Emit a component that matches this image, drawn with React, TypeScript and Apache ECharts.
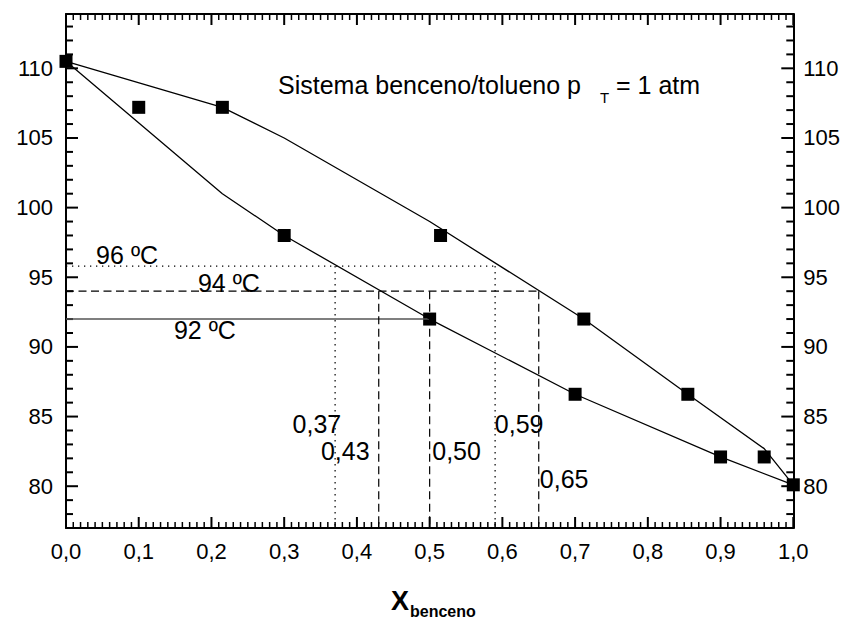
import React, { useEffect, useRef } from 'react';
import * as echarts from 'echarts';

// Liquid (bubble-point) curve
const liquidX = [0, 0.215, 0.3, 0.5, 0.7, 0.9, 1.0];
const liquidT = [110.5, 101, 98, 92, 86.6, 82.1, 80.1];
// Vapour (dew-point) curve
const vaporX = [0, 0.215, 0.3, 0.5, 0.712, 0.855, 0.96, 1.0];
const vaporT = [110.5, 107.2, 105, 99, 92, 86.6, 82.7, 80.1];
// Experimental points
const pointX = [0, 0.1, 0.215, 0.3, 0.515, 0.5, 0.712, 0.7, 0.855, 0.9, 0.96, 1.0];
const pointT = [110.5, 107.2, 107.2, 98, 98, 92, 92, 86.6, 86.6, 82.1, 82.1, 80.1];

// Isotherms
const isoT = [95.8, 94, 92];
const isoEndX = [0.59, 0.65, 0.5];
const isoLabels = ['96 ºC', '94 ºC', '92 ºC'];
const isoLabelX = [0.084, 0.224, 0.191];
const isoLabelT = [96.6, 94.6, 91.2];

// Composition drop lines
const dropX = [0.37, 0.59, 0.43, 0.65, 0.5];
const dropTopT = [95.8, 95.8, 94, 94, 94];
const dropLabels = ['0,37', '0,59', '0,43', '0,65', '0,50'];
const dropLabelX = [0.345, 0.623, 0.384, 0.685, 0.537];
const dropLabelT = [84.5, 84.5, 82.5, 80.5, 82.5];

// Axis ranges and tick steps
const X_MIN = 0;
const X_MAX = 1;
const X_MAJOR = 0.1;
const X_MINOR_PER_MAJOR = 10;
const Y_MIN = 77;
const Y_MAX = 113.9;
const Y_MAJOR = 5;
const Y_MINOR = 1;

const FONT = '"Liberation Sans", Arial, sans-serif';

export default function App() {
  const ref = useRef<HTMLDivElement>(null);
  useEffect(() => {
    if (!ref.current) return;
    const chart = echarts.init(ref.current, undefined, { renderer: 'svg' });
    const dotted = [1.3, 4.7];
    const dashed = [8, 4.5];
    const isoTypes: any[] = [dotted, dashed, 'solid'];
    const isoColors = ['#000', '#000', '#555'];
    const dropTypes: any[] = [dotted, dotted, dashed, dashed, dashed];

    const xFmt = (v: number) => v.toFixed(1).replace('.', ',');
    const yFmt = (v: number) => (Math.abs(v % 5) < 1e-6 ? String(Math.round(v)) : '');

    const xAxisBase = (pos: 'bottom' | 'top', labels: boolean) => ({
      type: 'value', position: pos, min: X_MIN, max: X_MAX, interval: X_MAJOR,
      axisLine: { show: true, onZero: false, lineStyle: { color: '#000', width: 2 } },
      axisTick: { show: false },
      axisLabel: { show: labels, formatter: xFmt, color: '#000', fontSize: 22, fontFamily: FONT, margin: 12 },
      splitLine: { show: false },
    });
    const yAxisBase = (pos: 'left' | 'right', margin: number) => ({
      type: 'value', position: pos, min: Y_MIN, max: Y_MAX, splitNumber: 7,
      axisLine: { show: true, onZero: false, lineStyle: { color: '#000', width: 2 } },
      axisTick: { show: false },
      axisLabel: { formatter: yFmt, color: '#000', fontSize: 22, fontFamily: FONT, margin, showMinLabel: false, showMaxLabel: false },
      splitLine: { show: false },
    });

    // tick marks (inside, on all four sides), placed through the axes' scales
    const nX = Math.round((X_MAX - X_MIN) / X_MAJOR) * X_MINOR_PER_MAJOR;
    const xTickData: number[][] = [];
    for (let i = 0; i <= nX; i++) {
      xTickData.push([X_MIN + (i * X_MAJOR) / X_MINOR_PER_MAJOR, 95, i % X_MINOR_PER_MAJOR === 0 ? 1 : 0]);
    }
    const yTickData: number[][] = [];
    for (let v = Math.ceil(Y_MIN + 0.5); v < Y_MAX; v += Y_MINOR) {
      yTickData.push([0.5, v, v % Y_MAJOR === 0 ? 1 : 0]);
    }

    const series: any[] = [];
    series.push({
      type: 'custom', silent: true, clip: false,
      data: xTickData, encode: { x: 0, y: 1 },
      renderItem: (_p: any, api: any) => {
        const v = api.value(0);
        const major = api.value(2) === 1;
        const b = api.coord([v, Y_MIN]);
        const t = api.coord([v, Y_MAX]);
        const len = major ? 11 : 6;
        const style = { stroke: '#000', lineWidth: major ? 2 : 1.5 };
        return {
          type: 'group',
          children: [
            { type: 'line', shape: { x1: b[0], y1: b[1], x2: b[0], y2: b[1] - len }, style },
            { type: 'line', shape: { x1: t[0], y1: t[1], x2: t[0], y2: t[1] + len }, style },
          ],
        };
      },
    });
    series.push({
      type: 'custom', silent: true, clip: false,
      data: yTickData, encode: { x: 0, y: 1 },
      renderItem: (_p: any, api: any) => {
        const v = api.value(1);
        const major = api.value(2) === 1;
        const l = api.coord([X_MIN, v]);
        const r = api.coord([X_MAX, v]);
        const len = major ? 12 : 7;
        const style = { stroke: '#000', lineWidth: 2 };
        return {
          type: 'group',
          children: [
            { type: 'line', shape: { x1: l[0], y1: l[1], x2: l[0] + len, y2: l[1] }, style },
            { type: 'line', shape: { x1: r[0], y1: r[1], x2: r[0] - len, y2: r[1] }, style },
          ],
        };
      },
    });
    isoT.forEach((t, i) => {
      series.push({
        type: 'line', data: [[X_MIN, t], [isoEndX[i], t]], symbol: 'none',
        lineStyle: { color: isoColors[i], width: i === 2 ? 1.6 : 1.2, type: isoTypes[i] },
      });
    });
    dropX.forEach((x, i) => {
      series.push({
        type: 'line', data: [[x, dropTopT[i]], [x, Y_MIN]], symbol: 'none',
        lineStyle: { color: '#000', width: 1.2, type: dropTypes[i] },
      });
    });
    series.push({
      type: 'line', name: 'liquido', data: liquidX.map((x, i) => [x, liquidT[i]]),
      symbol: 'none', lineStyle: { color: '#000', width: 1.3 },
    });
    series.push({
      type: 'line', name: 'vapor', data: vaporX.map((x, i) => [x, vaporT[i]]),
      symbol: 'none', lineStyle: { color: '#000', width: 1.3 },
    });
    series.push({
      type: 'scatter', name: 'datos', data: pointX.map((x, i) => [x, pointT[i]]),
      symbol: 'rect', symbolSize: 13, itemStyle: { color: '#000', opacity: 1 },
    });
    const notes = [
      ...isoLabels.map((s, i) => ({ value: [isoLabelX[i], isoLabelT[i]], name: s })),
      ...dropLabels.map((s, i) => ({ value: [dropLabelX[i], dropLabelT[i]], name: s })),
    ];
    series.push({
      type: 'scatter', data: notes, symbolSize: 0, silent: true,
      itemStyle: { color: '#000', opacity: 1 },
      label: {
        show: true, position: 'inside', formatter: (p: any) => p.name,
        color: '#000', fontSize: 25, fontFamily: FONT, textBorderWidth: 0,
      },
    });

    const t = (text: string, left: number, top: number, fontSize: number, bold = false) => ({
      text, left, top, padding: 0,
      textStyle: { fontSize, fontFamily: FONT, fontWeight: bold ? 'bold' : 'normal', color: '#000' },
    });

    chart.setOption({
      animation: false,
      backgroundColor: '#fff',
      title: [
        t('Sistema benceno/tolueno p', 278, 72, 25),
        t('T', 600, 90, 15),
        t('= 1 atm', 616, 72, 25),
        t('X', 391, 587, 27, true),
        t('benceno', 410, 603, 16, true),
      ],
      grid: { left: 66, right: 41, top: 14, bottom: 93 },
      xAxis: [xAxisBase('bottom', true), xAxisBase('top', false)],
      yAxis: [yAxisBase('left', 13), yAxisBase('right', 10)],
      series,
    });
    return () => chart.dispose();
  }, []);
  return <div ref={ref} style={{ position: 'absolute', left: 0, top: 0, width: 843, height: 621 }} />;
}
